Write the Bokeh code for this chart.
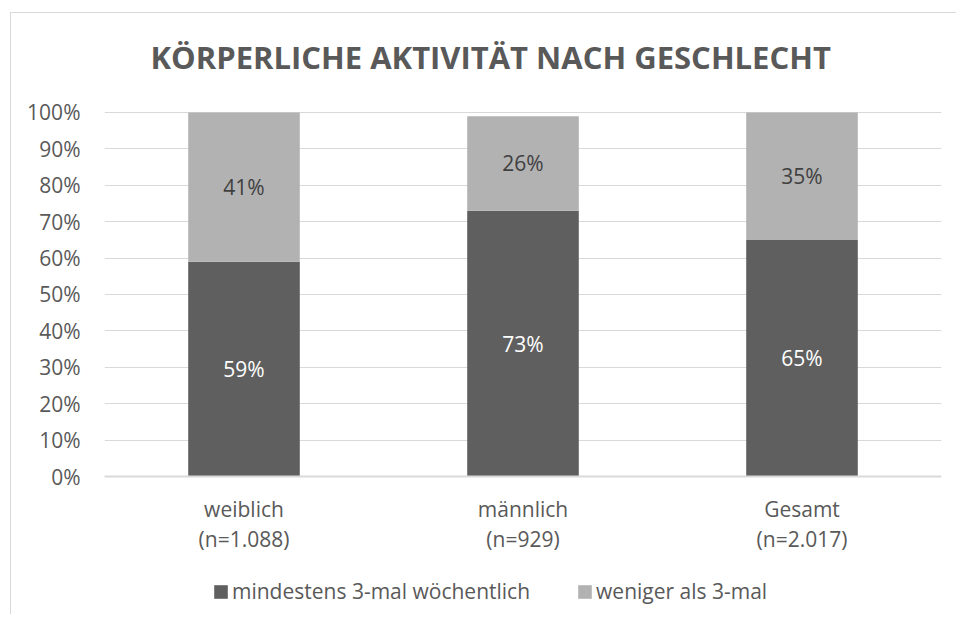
from bokeh.plotting import figure
from bokeh.models import ColumnDataSource, Legend, NumeralTickFormatter, FixedTicker, Label, Span
from bokeh.core.properties import value
from bokeh.embed import file_html
from bokeh.resources import INLINE

categories = ["weiblich", "männlich", "Gesamt"]
sample_sizes = ["(n=1.088)", "(n=929)", "(n=2.017)"]
mindestens = [0.59, 0.73, 0.65]
weniger = [0.41, 0.26, 0.35]
series_names = ["mindestens 3-mal wöchentlich", "weniger als 3-mal"]
title_text = "KÖRPERLICHE AKTIVITÄT NACH GESCHLECHT"
y_ticks = [0.0, 0.1, 0.2, 0.3, 0.4, 0.5, 0.6, 0.7, 0.8, 0.9, 1.0]

DARK = "#5f5f5f"
LIGHT = "#b2b2b2"
TEXT = "#595959"
GRID = "#d9d9d9"
FONT = "Open Sans"
FS = "21px"

source = ColumnDataSource(dict(
    cat=categories,
    nlab=sample_sizes,
    zero=[0.0] * len(categories),
    mind=mindestens,
    wen=weniger,
    mind_mid=[m / 2 for m in mindestens],
    wen_mid=[m + w / 2 for m, w in zip(mindestens, weniger)],
    mind_lbl=[f"{round(m*100)}%" for m in mindestens],
    wen_lbl=[f"{round(w*100)}%" for w in weniger],
))

# frame spans whole chart area; the 0..100% scale occupies 364 px of it
p = figure(x_range=categories, y_range=(-0.3736, 1.2527), frame_width=837, frame_height=592,
           output_backend="svg", toolbar_location=None,
           min_border_left=93, min_border_right=15, min_border_top=7, min_border_bottom=2)
p.styles = {"margin-left": "10px", "margin-top": "12px",
            "border-top": "1px solid #d9d9d9", "border-left": "1px solid #d9d9d9"}
p.outline_line_color = None
p.background_fill_color = "white"
p.border_fill_color = "white"

r = p.vbar_stack(["mind", "wen"], x="cat", width=0.4, source=source,
                 color=[DARK, LIGHT], line_color=None)

p.add_layout(Span(location=0, dimension="width", line_color=GRID, line_width=2))

p.text(x="cat", y="mind_mid", text="mind_lbl", source=source,
       text_align="center", text_baseline="middle", text_color="white",
       text_font=value(FONT), text_font_size=FS)
p.text(x="cat", y="wen_mid", text="wen_lbl", source=source,
       text_align="center", text_baseline="middle", text_color="#404040",
       text_font=value(FONT), text_font_size=FS)

# category labels (two lines) below the baseline
p.text(x="cat", y="zero", text="cat", source=source, y_offset=32,
       text_align="center", text_baseline="middle", text_color=TEXT,
       text_font=value(FONT), text_font_size=FS)
p.text(x="cat", y="zero", text="nlab", source=source, y_offset=62,
       text_align="center", text_baseline="middle", text_color=TEXT,
       text_font=value(FONT), text_font_size=FS)

# axes
p.yaxis.ticker = FixedTicker(ticks=y_ticks)
p.yaxis.formatter = NumeralTickFormatter(format="0%")
p.yaxis.axis_line_color = None
p.yaxis.major_tick_line_color = None
p.yaxis.minor_tick_line_color = None
p.yaxis.major_label_text_font = FONT
p.yaxis.major_label_text_font_size = FS
p.yaxis.major_label_text_color = TEXT
p.yaxis.major_label_standoff = 18

p.xaxis.visible = False
p.xgrid.grid_line_color = None
p.ygrid.grid_line_color = GRID
p.ygrid.grid_line_width = 1
p.x_range.range_padding = 0

title = Label(x=46, y=556, x_units="screen", y_units="screen", text=title_text,
              text_align="left", text_baseline="middle", text_font=FONT,
              text_font_size="31px", text_font_style="bold", text_color=TEXT)
p.add_layout(title)

legend = Legend(items=[(series_names[0], [r[0]]), (series_names[1], [r[1]])],
                orientation="horizontal", location=(108, 7),
                glyph_width=17, glyph_height=17, label_standoff=3, spacing=46,
                padding=0, margin=0, border_line_color=None, background_fill_alpha=0,
                label_text_font=FONT, label_text_font_size=FS, label_text_color=TEXT)
p.add_layout(legend, "center")

open("out.html", "w").write(file_html(p, INLINE))
